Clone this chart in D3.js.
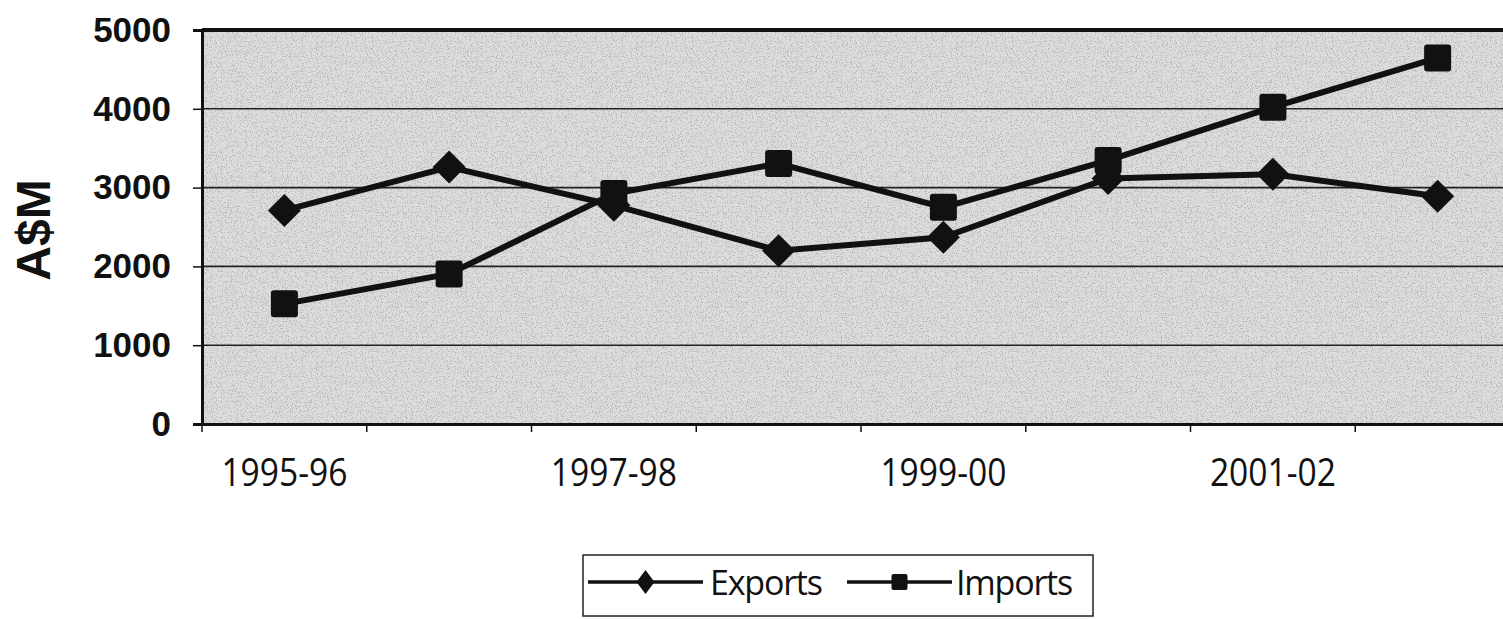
<!DOCTYPE html>
<html>
<head>
<meta charset="utf-8">
<script src="https://cdn.jsdelivr.net/npm/d3@7"></script>
<style>
  body { margin: 0; background: #fff; }
  svg { display: block; }
</style>
</head>
<body>
<div class="chart"></div>
<script>
// data
const years = ['1995-96', '1996-97', '1997-98', '1998-99', '1999-00', '2000-01', '2001-02', '2002-03'];
const exportsVals = [2710, 3260, 2775, 2200, 2370, 3115, 3170, 2890];
const importsVals = [1525, 1905, 2925, 3305, 2750, 3345, 4020, 4645];
const yTicks = [0, 1000, 2000, 3000, 4000, 5000];
const shownYears = ['1995-96', '1997-98', '1999-00', '2001-02'];

const width = 1503;
const height = 619;
const plotLeft = 202, plotRight = 1520, plotTop = 30, plotBottom = 424;

const svg = d3.select('.chart')
    .append('svg')
    .attr('width', width)
    .attr('height', height);

// speckled grey like the scan
const defs = svg.append('defs');
const f = defs.append('filter').attr('id', 'speck')
    .attr('x', 0).attr('y', 0).attr('width', 1).attr('height', 1);
f.append('feTurbulence')
    .attr('type', 'fractalNoise')
    .attr('baseFrequency', 0.8)
    .attr('numOctaves', 2)
    .attr('seed', 7)
    .attr('result', 'noise');
f.append('feColorMatrix')
    .attr('in', 'noise')
    .attr('type', 'matrix')
    .attr('values', '0 0 0 0 0.3  0 0 0 0 0.3  0 0 0 0 0.3  0 0 0 10 -5.6');

const x = d3.scaleBand()
    .domain(years)
    .range([plotLeft, plotRight]);

const y = d3.scaleLinear()
    .domain([0, 5000])
    .range([plotBottom, plotTop]);

svg.append('rect')
    .attr('x', plotLeft)
    .attr('y', plotTop)
    .attr('width', plotRight - plotLeft)
    .attr('height', plotBottom - plotTop)
    .attr('fill', '#dcdcdc');

svg.append('rect')
    .attr('x', plotLeft)
    .attr('y', plotTop)
    .attr('width', plotRight - plotLeft)
    .attr('height', plotBottom - plotTop)
    .attr('fill', '#fff')
    .attr('opacity', 0.45)
    .attr('filter', 'url(#speck)');

// gridlines
svg.selectAll('.grid')
    .data(yTicks.filter(d => d > 0 && d < 5000))
    .enter()
    .append('line')
    .attr('x1', plotLeft)
    .attr('x2', plotRight)
    .attr('y1', d => y(d))
    .attr('y2', d => y(d))
    .attr('stroke', '#222')
    .attr('stroke-width', 1.6);

// top border
svg.append('line')
    .attr('x1', plotLeft).attr('x2', plotRight)
    .attr('y1', plotTop).attr('y2', plotTop)
    .attr('stroke', '#111').attr('stroke-width', 4);

// y axis
const yAxis = svg.append('g')
    .attr('transform', `translate(${plotLeft},0)`)
    .call(d3.axisLeft(y).tickValues(yTicks).tickSize(9).tickPadding(22).tickFormat(d3.format('d')));
yAxis.select('.domain').attr('stroke', '#111').attr('stroke-width', 3);
yAxis.selectAll('.tick line').attr('stroke', '#111').attr('stroke-width', 1.5);
yAxis.selectAll('text')
    .attr('font-family', '"Liberation Sans", Arial, sans-serif')
    .attr('font-weight', 'bold')
    .attr('font-size', 35)
    .attr('fill', '#111');

// x axis, ticks between categories
const xAxis = svg.append('g')
    .attr('transform', `translate(0,${plotBottom})`)
    .call(d3.axisBottom(x).tickSize(0).tickPadding(34).tickFormat(d => shownYears.includes(d) ? d : ''));
xAxis.select('.domain').attr('stroke', '#111').attr('stroke-width', 3);
xAxis.selectAll('text')
    .attr('font-family', '"Open Sans", sans-serif')
    .attr('font-size', 39)
    .attr('fill', '#111')
    .filter(d => shownYears.includes(d))
    .attr('textLength', 126)
    .attr('lengthAdjust', 'spacingAndGlyphs');

svg.selectAll('.xtick')
    .data(years)
    .enter()
    .append('line')
    .attr('x1', d => x(d))
    .attr('x2', d => x(d))
    .attr('y1', plotBottom)
    .attr('y2', plotBottom + 8)
    .attr('stroke', '#111')
    .attr('stroke-width', 1.5);

// y title
svg.append('text')
    .attr('transform', 'translate(50,230) rotate(-90)')
    .attr('text-anchor', 'middle')
    .attr('font-family', '"Liberation Sans", Arial, sans-serif')
    .attr('font-weight', 'bold')
    .attr('font-size', 48)
    .attr('fill', '#111')
    .text('A$M');

const cx = d => x(d) + x.bandwidth() / 2;
const line = d3.line()
    .x(d => cx(d.year))
    .y(d => y(d.value));

const exportsData = years.map((yr, i) => ({year: yr, value: exportsVals[i]}));
const importsData = years.map((yr, i) => ({year: yr, value: importsVals[i]}));

svg.append('path')
    .datum(exportsData)
    .attr('d', line)
    .attr('fill', 'none')
    .attr('stroke', '#111')
    .attr('stroke-width', 6);

svg.append('path')
    .datum(importsData)
    .attr('d', line)
    .attr('fill', 'none')
    .attr('stroke', '#111')
    .attr('stroke-width', 6);

// markers
const diamond = (px, py, r) => `M${px},${py - r}L${px + r},${py}L${px},${py + r}L${px - r},${py}Z`;

svg.selectAll('.exp')
    .data(exportsData)
    .enter()
    .append('path')
    .attr('d', d => diamond(cx(d.year), y(d.value), 16.5))
    .attr('fill', '#111');

svg.selectAll('.imp')
    .data(importsData)
    .enter()
    .append('rect')
    .attr('x', d => cx(d.year) - 13.5)
    .attr('y', d => y(d.value) - 13.5)
    .attr('width', 27)
    .attr('height', 27)
    .attr('rx', 3)
    .attr('fill', '#111');

// legend
const legend = svg.append('g');
legend.append('rect')
    .attr('x', 583)
    .attr('y', 555)
    .attr('width', 510)
    .attr('height', 61)
    .attr('fill', '#fff')
    .attr('stroke', '#222')
    .attr('stroke-width', 1.5);

const items = [
    {name: 'Exports', x1: 588, x2: 703, tx: 710, shape: 'diamond'},
    {name: 'Imports', x1: 847, x2: 952, tx: 956, shape: 'square'}
];

items.forEach(it => {
    const mid = (it.x1 + it.x2) / 2;
    legend.append('line')
        .attr('x1', it.x1).attr('x2', it.x2)
        .attr('y1', 582).attr('y2', 582)
        .attr('stroke', '#111').attr('stroke-width', 3.5);
    if (it.shape === 'diamond') {
        legend.append('path')
            .attr('d', `M${mid},570L${mid + 9},582L${mid},594L${mid - 9},582Z`)
            .attr('fill', '#111');
    } else {
        legend.append('rect')
            .attr('x', mid - 8).attr('y', 574)
            .attr('width', 16).attr('height', 16)
            .attr('rx', 2)
            .attr('fill', '#111');
    }
    legend.append('text')
        .attr('x', it.tx)
        .attr('y', 595)
        .attr('font-family', '"Open Sans", sans-serif')
        .attr('font-size', 34)
        .attr('letter-spacing', -1.2)
        .attr('fill', '#111')
        .text(it.name);
});
</script>
</body>
</html>
